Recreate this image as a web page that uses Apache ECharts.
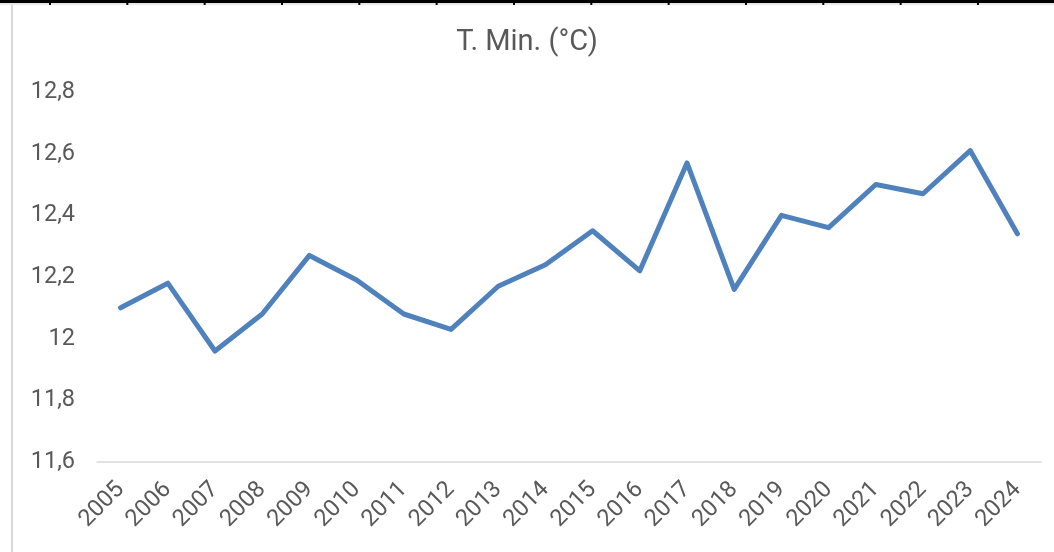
<!DOCTYPE html>
<html>
<head>
<meta charset="utf-8">
<title>T. Min.</title>
<script src="https://cdn.jsdelivr.net/npm/echarts@6/dist/echarts.min.js"></script>
<style>
  html, body { margin: 0; padding: 0; background: #fff; }
  #chart { width: 1054px; height: 552px; }
</style>
</head>
<body>
<div id="chart"></div>
<script>
// anni e temperatura minima media
const years = ["2005", "2006", "2007", "2008", "2009", "2010", "2011", "2012", "2013", "2014",
  "2015", "2016", "2017", "2018", "2019", "2020", "2021", "2022", "2023", "2024"];
const tMin = [12.10, 12.18, 11.96, 12.08, 12.27, 12.19, 12.08, 12.03, 12.17, 12.24,
  12.35, 12.22, 12.57, 12.16, 12.40, 12.36, 12.50, 12.47, 12.61, 12.34];
const yTicks = [11.6, 11.8, 12, 12.2, 12.4, 12.6, 12.8];

const textColor = "#595959";
const font = "Roboto";

const chart = echarts.init(document.getElementById("chart"));

// bordo superiore (celle del foglio) e bordo sinistro
const decor = [
  { type: "rect", shape: { x: 0, y: 0, width: 1054, height: 3 }, style: { fill: "#000" } },
  { type: "rect", shape: { x: 0, y: 3, width: 1054, height: 2 }, style: { fill: "#e8e8e8" } },
  { type: "rect", shape: { x: 11, y: 5, width: 2, height: 547 }, style: { fill: "#d9d9d9" } },
];
for (let i = 0; i < 13; i++) {
  decor.push({
    type: "rect",
    shape: { x: 49 + i * 77.33, y: 0, width: 2, height: 5 },
    style: { fill: "#000" },
  });
}

const option = {
  backgroundColor: "#fff",
  animation: false,
  title: {
    text: "T. Min. (°C)",
    left: "center",
    top: 23,
    textStyle: { color: textColor, fontFamily: font, fontSize: 29, fontWeight: "normal" },
  },
  grid: { left: 97, right: 13, top: 92, bottom: 90, containLabel: false },
  xAxis: {
    type: "category",
    data: years,
    boundaryGap: true,
    axisLine: { lineStyle: { color: "#d9d9d9", width: 1.5 } },
    axisTick: { show: false },
    axisLabel: {
      interval: 0,
      rotate: 45,
      margin: 24,
      color: textColor,
      fontFamily: font,
      fontSize: 23.5,
    },
  },
  yAxis: {
    type: "value",
    min: yTicks[0],
    max: yTicks[yTicks.length - 1],
    interval: 0.2,
    axisLine: { show: false },
    axisTick: { show: false },
    splitLine: { show: false },
    axisLabel: {
      margin: 22,
      color: textColor,
      fontFamily: font,
      fontSize: 23.5,
      formatter: (v) => String(Math.round(v * 10) / 10).replace(".", ","),
    },
  },
  series: [
    {
      type: "line",
      data: tMin,
      symbol: "none",
      lineStyle: { color: "#4f81bd", width: 5, cap: "round", join: "round" },
    },
  ],
  graphic: decor,
};

chart.setOption(option);
</script>
</body>
</html>
